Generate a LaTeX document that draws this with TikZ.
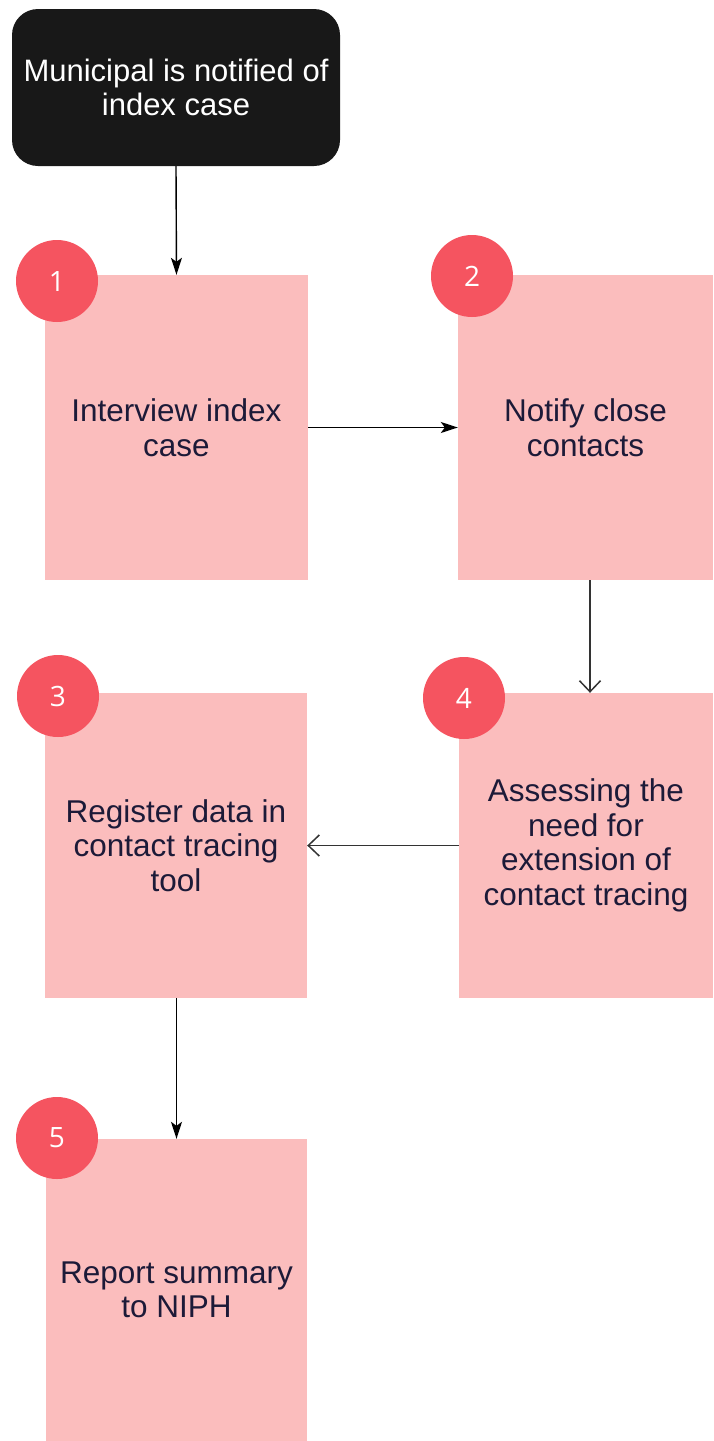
\documentclass[tikz,border=0pt]{standalone}
\usepackage{fontspec}
\setmainfont{Liberation Sans}
\newfontfamily\numfont{Open Sans}
\usetikzlibrary{arrows.meta}

\definecolor{stepfill}{RGB}{251,189,189}
\definecolor{badgefill}{RGB}{245,84,96}
\definecolor{textnavy}{RGB}{28,26,56}
\definecolor{startfill}{RGB}{24,24,24}

\tikzset{
  stepbox/.style={fill=stepfill, draw=none, inner sep=0pt, text=textnavy,
    align=center, font=\fontsize{31.5}{34.5}\selectfont},
  badge/.style={circle, fill=badgefill, draw=none, minimum size=82pt, inner sep=0pt,
    text=white, font=\numfont\fontsize{28}{30}\selectfont},
  startbox/.style={fill=startfill, draw=none, rounded corners=26pt, inner sep=0pt,
    text=white, align=center, font=\fontsize{31}{33.5}\selectfont},
  solidarrow/.style={line width=1.4pt, draw=black, -{Stealth[length=17pt,width=11pt,inset=4pt]}},
  openarrow/.style={line width=1.5pt, draw=black!80, -{Straight Barb[length=11pt,width=21pt]}}
}

\begin{document}
\begin{tikzpicture}[x=1pt,y=-1pt]
  \useasboundingbox (0,0) rectangle (713,1441);

  % start box
  \node[startbox, minimum width=328pt, minimum height=157pt] (start) at (176,87.5)
    {Municipal is notified of\\index case};

  % process steps
  \node[stepbox, minimum width=263pt, minimum height=305pt] (s1) at (176.5,427.5)
    {Interview index\\case};
  \node[stepbox, minimum width=255pt, minimum height=305pt] (s2) at (585.5,427.5)
    {Notify close\\contacts};
  \node[stepbox, minimum width=262pt, minimum height=305pt] (s3) at (176,845.5)
    {Register data in\\contact tracing\\tool};
  \node[stepbox, minimum width=254pt, minimum height=305pt] (s4) at (586,845.5)
    {Assessing the\\need for\\extension of\\contact tracing};
  \node[stepbox, minimum width=261pt, minimum height=302pt] (s5) at (176.5,1290)
    {Report summary\\to NIPH};

  % numbered badges
  \node[badge] (n1) at (57,281) {1};
  \node[badge] (n2) at (472,276) {2};
  \node[badge] (n3) at (58,696) {3};
  \node[badge] (n4) at (464,698) {4};
  \node[badge] (n5) at (57,1138) {5};

  % connectors
  \draw[solidarrow] (start.south) -- (s1.north);
  \draw[solidarrow] (s1.east) -- (s2.west);
  \draw[openarrow] ([xshift=4.5pt]s2.south) -- ([xshift=4pt]s4.north);
  \draw[openarrow] (s4.west) -- (s3.east);
  \draw[solidarrow] ([xshift=0.5pt]s3.south) -- (s5.north);
\end{tikzpicture}
\end{document}
